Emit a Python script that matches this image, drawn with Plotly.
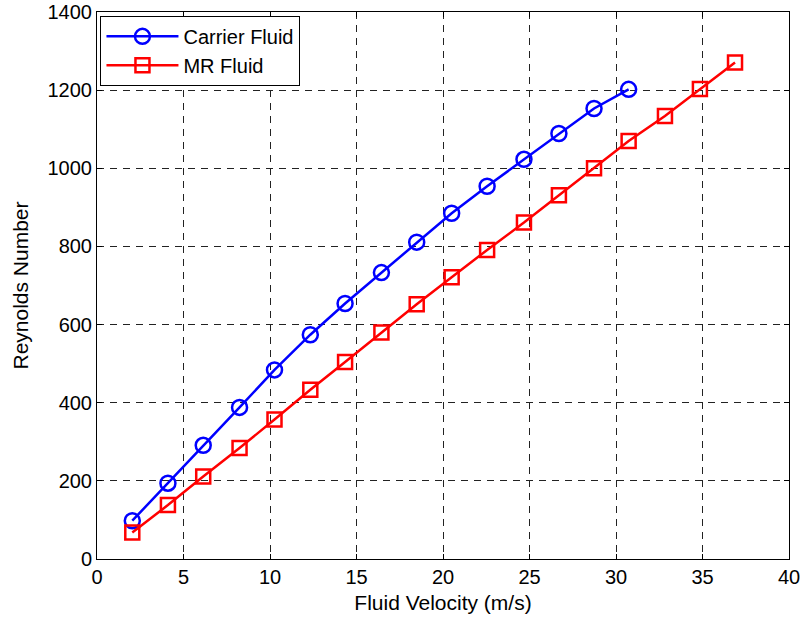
import plotly.graph_objects as go

velocity = [2.04, 4.10, 6.14, 8.24, 10.26, 12.33, 14.34, 16.44, 18.48, 20.50, 22.55, 24.68, 26.70, 28.73, 30.73, 32.83, 34.85, 36.88]
carrier_re = [98, 194, 291, 388, 484, 574, 654, 733, 811, 885, 954, 1023, 1089, 1153, 1202]
mr_re = [68, 138, 211, 284, 357, 433, 504, 580, 652, 721, 791, 861, 931, 1000, 1070, 1134, 1203, 1271]

x_ticks = [0, 5, 10, 15, 20, 25, 30, 35, 40]
y_ticks = [0, 200, 400, 600, 800, 1000, 1200, 1400]

FONT = "Liberation Sans, Arial, sans-serif"

fig = go.Figure()
fig.add_trace(go.Scatter(
    x=velocity[:len(carrier_re)], y=carrier_re, mode="lines+markers", name="Carrier Fluid",
    line=dict(color="#0000FF", width=2.5),
    marker=dict(symbol="circle-open", size=15, color="#0000FF", line=dict(width=2.5, color="#0000FF")),
))
fig.add_trace(go.Scatter(
    x=velocity[:len(mr_re)], y=mr_re, mode="lines+markers", name="MR Fluid",
    line=dict(color="#FF0000", width=2.5),
    marker=dict(symbol="square-open", size=14, color="#FF0000", line=dict(width=2.5, color="#FF0000")),
))

axis_common = dict(
    showline=True, linecolor="black", linewidth=1, mirror="ticks",
    ticks="inside", ticklen=5, tickcolor="black",
    showgrid=True, gridcolor="#222222", gridwidth=1, griddash="7px,6px",
    zeroline=False, tickfont=dict(family=FONT, size=20, color="black"),
    automargin=False,
)

fig.update_xaxes(range=[0, 40], tickvals=x_ticks, ticktext=[str(v) for v in x_ticks],
                 title=dict(text="Fluid Velocity (m/s)", font=dict(family=FONT, size=21, color="black"), standoff=8),
                 **axis_common)
fig.update_yaxes(range=[0, 1400], tickvals=y_ticks, ticktext=[str(v) for v in y_ticks],
                 title=dict(text="Reynolds Number", font=dict(family=FONT, size=21, color="black"), standoff=13),
                 **axis_common)

fig.update_layout(
    width=804, height=620,
    margin=dict(l=97, r=15, t=12, b=61),
    plot_bgcolor="white", paper_bgcolor="white",
    font=dict(family=FONT, size=20, color="black"),
    showlegend=True,
    legend=dict(x=0.005, y=0.993, xanchor="left", yanchor="top",
                bgcolor="white", bordercolor="black", borderwidth=1,
                font=dict(family=FONT, size=20, color="black"), itemwidth=72,
                tracegroupgap=0),
)

fig.write_html("out.html")
